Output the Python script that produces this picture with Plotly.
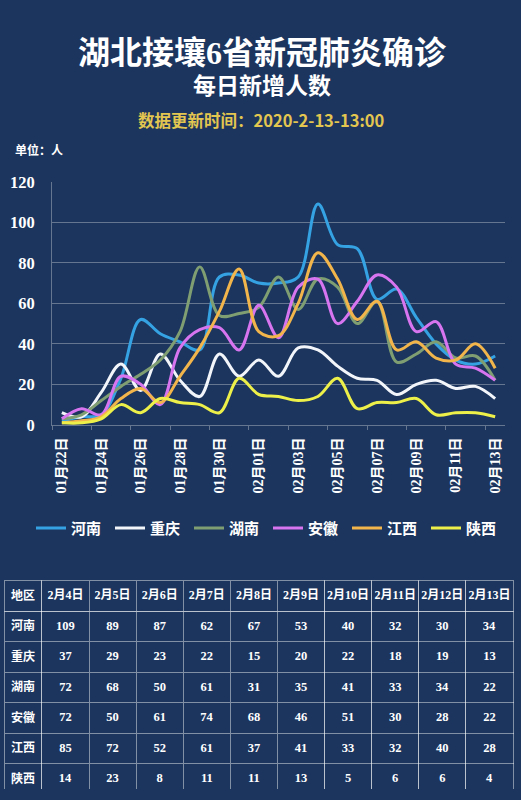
import plotly.graph_objects as go

# 日期（横轴）
days = ["01月22日", "01月23日", "01月24日", "01月25日", "01月26日", "01月27日",
        "01月28日", "01月29日", "01月30日", "01月31日", "02月01日", "02月02日",
        "02月03日", "02月04日", "02月05日", "02月06日", "02月07日", "02月08日",
        "02月09日", "02月10日", "02月11日", "02月12日", "02月13日"]

# 每日新增确诊
henan = [2, 4, 5, 23, 52, 45, 41, 37, 73, 74, 70, 70, 73,
         109, 89, 87, 62, 67, 53, 40, 32, 30, 34]
chongqing = [6, 4, 16, 30, 17, 35, 22, 14, 35, 24, 32, 24, 38,
             37, 29, 23, 22, 15, 20, 22, 18, 19, 13]
hunan = [3, 5, 12, 19, 25, 32, 46, 78, 54, 55, 58, 73, 57,
         72, 68, 50, 61, 31, 35, 41, 33, 34, 22]
anhui = [3, 8, 5, 24, 20, 10, 38, 47, 48, 37, 59, 43, 68,
         72, 50, 61, 74, 68, 46, 51, 30, 28, 22]
jiangxi = [1, 2, 4, 13, 18, 11, 24, 38, 56, 77, 46, 44, 60,
           85, 72, 52, 61, 37, 41, 33, 32, 40, 28]
shaanxi = [1, 1, 3, 10, 6, 13, 11, 10, 6, 23, 15, 14, 12,
           14, 23, 8, 11, 11, 13, 5, 6, 6, 4]

# 表格表头（最近10天）
table_days = ["2月4日", "2月5日", "2月6日", "2月7日", "2月8日",
              "2月9日", "2月10日", "2月11日", "2月12日", "2月13日"]

series = [
    ("河南", henan, "#35a3e3"),
    ("重庆", chongqing, "#f2f5fa"),
    ("湖南", hunan, "#7f9e72"),
    ("安徽", anhui, "#d774ef"),
    ("江西", jiangxi, "#f1b54c"),
    ("陕西", shaanxi, "#eef04a"),
]

BG = "#1c355e"
GRID = "rgba(255,255,255,0.32)"
CJK = "Noto Sans CJK SC"
SERIF = "Liberation Serif, Noto Sans CJK SC"
W, H = 521, 800

x = list(range(len(days)))

fig = go.Figure()
for name, vals, color in series:
    fig.add_trace(go.Scatter(
        x=x, y=vals, name=name, mode="lines",
        line=dict(color=color, width=3, shape="spline", smoothing=1),
        hoverinfo="skip",
    ))

# 表格：地区 + 最近10天
n = len(table_days)
cols = [[f"<b>{s[0]}</b>" for s in series]]
for k in range(n):
    cols.append([f"<b>{s[1][len(s[1]) - n + k]}</b>" for s in series])

fig.add_trace(go.Table(
    domain=dict(x=[4 / W, 513 / W], y=[0, 1 - 585 / H]),
    columnwidth=[38] + [47.2] * n,
    header=dict(
        values=["<b>地区</b>"] + [f"<b>{d}</b>" for d in table_days],
        fill_color=BG, line=dict(color="rgba(255,255,255,0.45)", width=1),
        font=dict(family=SERIF, size=12, color="white"),
        align="center", height=28,
    ),
    cells=dict(
        values=cols,
        fill_color=BG, line=dict(color="rgba(255,255,255,0.45)", width=1),
        font=dict(family=SERIF, size=[12] + [12.5] * n, color="white"),
        align="center", height=28,
    ),
))

fig.update_xaxes(
    domain=[52 / W, 505 / W],
    range=[-0.5, len(days) - 0.5],
    tickmode="array",
    tickvals=x[::2],
    ticktext=days[::2],
    tickangle=-90,
    ticks="",
    ticklabelstandoff=6,
    tickfont=dict(family=SERIF, size=14, color="white", weight="bold"),
    showgrid=False,
    zeroline=False,
    showline=True, linecolor=GRID, linewidth=1,
    minor=dict(tickvals=[v - 0.5 for v in x[::2]], ticks="outside",
               ticklen=4, tickcolor=GRID, showgrid=False),
    fixedrange=True,
)
fig.update_yaxes(
    domain=[1 - 426 / H, 1 - 177 / H],
    range=[0, 120],
    dtick=20,
    gridcolor=GRID, gridwidth=1,
    zeroline=False,
    showline=True, linecolor=GRID, linewidth=1,
    ticks="",
    ticklabelstandoff=13,
    tickfont=dict(family=SERIF, size=16.5, color="white", weight="bold"),
    fixedrange=True,
)

fig.update_layout(
    width=W, height=H,
    margin=dict(l=0, r=0, t=0, b=0),
    paper_bgcolor=BG, plot_bgcolor=BG,
    showlegend=True,
    legend=dict(
        orientation="h", x=31 / W, y=1 - 532 / H,
        xanchor="left", yanchor="middle",
        entrywidth=34, entrywidthmode="pixels", itemwidth=30,
        font=dict(family=CJK, size=15, color="white", weight="bold"),
        bgcolor="rgba(0,0,0,0)",
    ),
    annotations=[
        # 标题 + 副标题（两行）
        dict(text="<span style='font-size:32px'>湖北接壤6省新冠肺炎确诊</span><br>"
                  "<span style='font-size:23px'>每日新增人数</span>",
             x=0.503, y=1 - 59 / H,
             xref="paper", yref="paper", showarrow=False, yanchor="middle",
             font=dict(family=SERIF, size=23, color="white", weight="bold")),
        dict(text="数据更新时间：2020-2-13-13:00", x=0.5, y=1 - 114 / H,
             xref="paper", yref="paper", showarrow=False, yanchor="middle",
             font=dict(family=CJK, size=16.5, color="#e3c650", weight="bold")),
        dict(text="单位：人", x=13 / W, y=1 - 144 / H, xanchor="left",
             xref="paper", yref="paper", showarrow=False, yanchor="middle",
             font=dict(family=CJK, size=12, color="white", weight="bold")),
    ],
)

# 去掉页面默认边距，让图正好铺满窗口
fig.write_html("out.html", config={"displayModeBar": False},
               post_script="document.body.style.margin='0';")
